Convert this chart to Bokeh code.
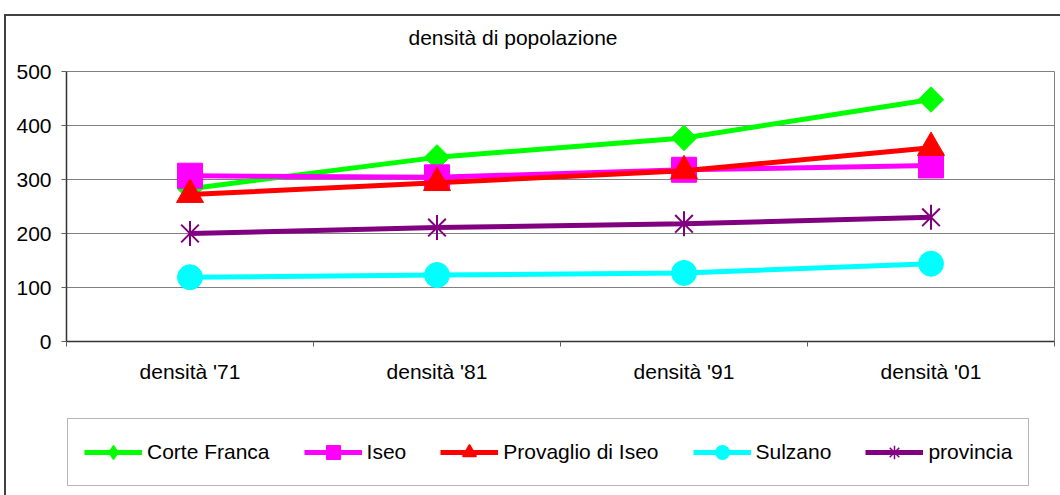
import math
from bokeh.plotting import figure
from bokeh.layouts import column
from bokeh.models import Range1d, FixedTicker, Legend, LegendItem
from bokeh.embed import file_html
from bokeh.resources import INLINE

# ---- data ----
categories = ["densità '71", "densità '81", "densità '91", "densità '01"]
corte_franca = [283, 341, 377, 448]
iseo = [307, 304, 318, 326]
provaglio = [272, 294, 316, 359]
sulzano = [119, 123, 127, 144]
provincia = [200, 211, 218, 230]
series_names = ["Corte Franca", "Iseo", "Provaglio di Iseo", "Sulzano", "provincia"]
y_ticks = [0, 100, 200, 300, 400, 500]
title_text = "densità di popolazione"

FONT = "Liberation Sans"
FS = "21px"

xs = [i + 0.5 for i in range(len(categories))]
bounds = list(range(len(categories) + 1))

p = figure(width=1060, height=410, output_backend="svg", toolbar_location=None,
           x_range=Range1d(0, len(categories)), y_range=Range1d(y_ticks[0], y_ticks[-1]),
           min_border_left=66, min_border_right=6, min_border_top=71, min_border_bottom=69)
p.background_fill_color = "white"
p.border_fill_alpha = 0
p.outline_line_color = "#808080"
p.outline_line_width = 1

# title
p.title.text = title_text
p.title.align = "left"
p.title.offset = 342
p.title.text_font = FONT
p.title.text_font_size = FS
p.title.text_font_style = "normal"
p.title.text_color = "black"
p.title.standoff = 46

# x axis
xa = p.xaxis[0]
xa.ticker = FixedTicker(ticks=xs, minor_ticks=bounds)
xa.major_label_overrides = {x: c for x, c in zip(xs, categories)}
xa.major_tick_line_color = None
xa.minor_tick_in = 0
xa.minor_tick_out = 5
xa.minor_tick_line_color = "#606060"
xa.axis_line_color = "#333333"
xa.axis_line_width = 1.5
xa.major_label_text_font = FONT
xa.major_label_text_font_size = FS
xa.major_label_text_color = "black"
xa.major_label_standoff = 12

# y axis
ya = p.yaxis[0]
ya.ticker = FixedTicker(ticks=y_ticks)
ya.major_tick_in = 0
ya.major_tick_out = 5
ya.major_tick_line_color = "#606060"
ya.minor_tick_line_color = None
ya.axis_line_color = "#333333"
ya.axis_line_width = 1.5
ya.major_label_text_font = FONT
ya.major_label_text_font_size = FS
ya.major_label_text_color = "black"
ya.major_label_standoff = 10

p.xgrid.grid_line_color = None
p.ygrid.grid_line_color = "#808080"
p.ygrid.grid_line_width = 1
p.ygrid.ticker = FixedTicker(ticks=y_ticks)

LW = 5
colors = ["#00FF00", "#FF00FF", "#FF0000", "#00FFFF", "#800080"]
series = [corte_franca, iseo, provaglio, sulzano, provincia]

p.line(xs, corte_franca, line_color=colors[0], line_width=LW)
p.scatter(xs, corte_franca, marker="square", size=18, angle=math.pi / 4,
          fill_color=colors[0], line_color=colors[0])

p.line(xs, iseo, line_color=colors[1], line_width=LW)
p.scatter(xs, iseo, marker="square", size=25, fill_color=colors[1], line_color=colors[1])

p.line(xs, provaglio, line_color=colors[2], line_width=LW)
p.scatter(xs, provaglio, marker="triangle", size=27, fill_color=colors[2], line_color=colors[2])

p.line(xs, sulzano, line_color=colors[3], line_width=LW)
p.scatter(xs, sulzano, marker="circle", size=25, fill_color=colors[3], line_color=colors[3])

p.line(xs, provincia, line_color=colors[4], line_width=LW)
p.scatter(xs, provincia, marker="x", size=25, line_color=colors[4], line_width=2)
p.scatter(xs, provincia, marker="dash", size=25, angle=math.pi / 2,
          line_color=colors[4], line_width=2)

# ---- legend strip (separate figure below the chart; its data lie outside its view) ----
q = figure(width=1060, height=85, output_backend="svg", toolbar_location=None,
           x_range=Range1d(0, len(categories)), y_range=Range1d(-2, -1),
           x_axis_location=None, y_axis_location=None,
           min_border_left=0, min_border_right=0, min_border_top=0, min_border_bottom=0)
q.outline_line_color = None
q.background_fill_alpha = 0
q.border_fill_alpha = 0
q.xgrid.grid_line_color = None
q.ygrid.grid_line_color = None

legend_markers = ["diamond", "square", "triangle", "circle", "asterisk"]
items = []
for name, col, mk, vals in zip(series_names, colors, legend_markers, series):
    lr = q.line(xs, vals, line_color=col, line_width=LW)
    mr = q.scatter(xs, vals, marker=mk, fill_color=col, line_color=col, line_width=1.5)
    items.append(LegendItem(label=name, renderers=[lr, mr]))

legend = Legend(items=items, orientation="horizontal", location=(1, 9))
legend.margin = 0
legend.padding = 16
legend.spacing = 34
legend.glyph_width = 58
legend.glyph_height = 34
legend.label_standoff = 5
legend.label_text_font = FONT
legend.label_text_font_size = FS
legend.label_text_color = "black"
legend.border_line_color = "#707070"
legend.border_line_width = 1
legend.background_fill_color = "white"
legend.background_fill_alpha = 1
q.add_layout(legend, "center")

layout = column(p, q, spacing=0)
layout.styles = {
    "background": "linear-gradient(#404040,#404040) 4px 14px / 2px 481px no-repeat, "
                  "linear-gradient(#404040,#404040) 4px 14px / 1056px 2px no-repeat, white"
}

open("out.html", "w").write(file_html(layout, INLINE))
